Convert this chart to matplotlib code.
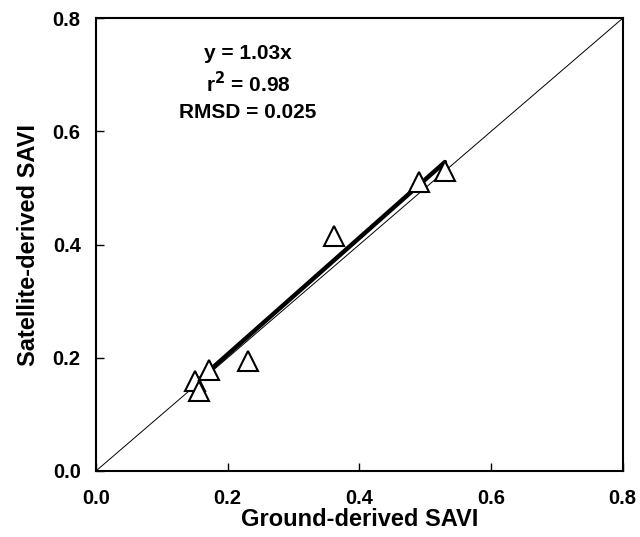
import numpy as np
import matplotlib
matplotlib.use("Agg")
import matplotlib.pyplot as plt

plt.rcParams["font.family"] = ["Liberation Sans", "DejaVu Sans"]
plt.rcParams["font.weight"] = "bold"

# ground vs satellite SAVI
ground_savi = [0.150, 0.157, 0.1715, 0.231, 0.362, 0.491, 0.530]
satellite_savi = [0.159, 0.142, 0.178, 0.195, 0.4155, 0.510, 0.530]
slope = 1.03
stats_text = ["y = 1.03x", "r$\\mathbf{^2}$ = 0.98", "RMSD = 0.025"]
ticks = [0.0, 0.2, 0.4, 0.6, 0.8]

fig = plt.figure(figsize=(6.4, 5.37), dpi=100)
ax = fig.add_axes([0.15, 0.123, 0.823, 0.843])

# 1:1 line
ax.plot([0, 0.8], [0, 0.8], color="black", lw=0.7, zorder=1)

# regression line through origin
xr = np.array([min(ground_savi), max(ground_savi)])
ax.plot(xr, slope * xr, color="black", lw=3.2, solid_capstyle="round", zorder=2)

ax.plot(ground_savi, satellite_savi, linestyle="none", marker="^", ms=14,
        mfc="white", mec="black", mew=1.5, zorder=3)

ax.set_xlim(0, 0.8)
ax.set_ylim(0, 0.8)
ax.set_xticks(ticks)
ax.set_yticks(ticks)
ax.set_xticklabels([f"{t:.1f}" for t in ticks])
ax.set_yticklabels([f"{t:.1f}" for t in ticks])
ax.tick_params(direction="in", length=6, width=1, labelsize=14.5)
ax.tick_params(axis="x", pad=13)
ax.tick_params(axis="y", pad=11)
for s in ax.spines.values():
    s.set_linewidth(1.5)

ax.set_xlabel("Ground-derived SAVI", fontsize=17, fontweight="bold", labelpad=0)
ax.set_ylabel("Satellite-derived SAVI", fontsize=17, fontweight="bold", labelpad=9)

for i, t in enumerate(stats_text):
    ax.text(0.231, 0.737 - i * 0.052, t, ha="center", va="center",
            fontsize=15, fontweight="bold")

fig.savefig("out.png", dpi=100)
